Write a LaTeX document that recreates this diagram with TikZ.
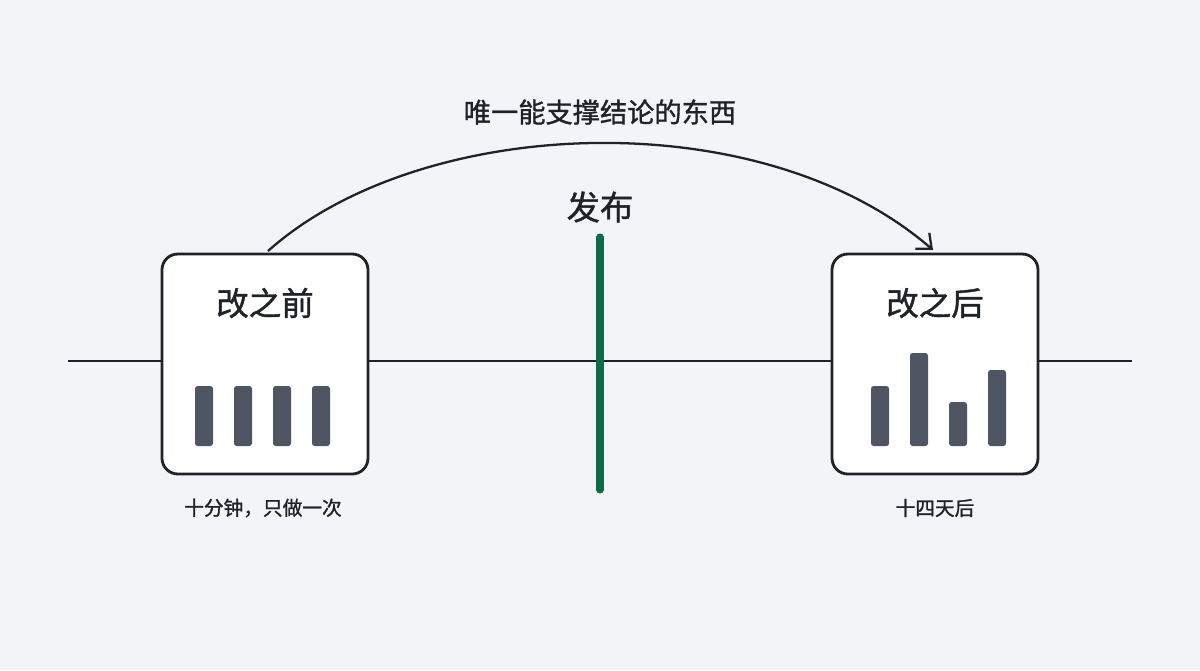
\documentclass[tikz,border=0pt]{standalone}
\usepackage{fontspec}
\newfontfamily\cjk{Noto Sans CJK SC}
\newfontfamily\cjkmed[FakeBold=1.2]{Noto Sans CJK SC}
\usetikzlibrary{arrows.meta,positioning}
\definecolor{bgcol}{HTML}{F3F4F8}
\definecolor{ink}{HTML}{1F2328}
\definecolor{barcol}{HTML}{4F5663}
\definecolor{relgreen}{HTML}{0E6B47}
\newlength{\unitpx}
\setlength{\unitpx}{0.02cm}
\tikzset{
    stage/.style = {draw=ink, line width=1.6pt, fill=white, rounded corners=9pt,
                    minimum width=206\unitpx, minimum height=220\unitpx},
    bar/.style = {fill=barcol, rounded corners=1.5pt},
    headarrow/.style = {-{Straight Barb[length=.7em, width=1.2em]}}
}
\begin{document}
\begin{tikzpicture}[x=0.02cm, y=-0.02cm, font=\cjk, text=ink]
    \fill[bgcol] (0,0) rectangle (1200,670);
    \useasboundingbox (0,0) rectangle (1200,670);

    \coordinate (lineL) at (68,361);
    \coordinate (lineR) at (1132,361);
    \draw[ink, line width=1.3pt] (lineL) -- (lineR);

    \node (before) [stage] at (265,364) {};
    \node (after)  [stage] at (935,364) {};

    \node (beforetitle) at (265,303) {\cjkmed\fontsize{18.5pt}{22pt}\selectfont 改之前};
    \node (aftertitle)  at (935,303) {\cjkmed\fontsize{18.5pt}{22pt}\selectfont 改之后};
    \node (beforenote) at (263,508) {\cjkmed\fontsize{11.2pt}{13pt}\selectfont 十分钟，只做一次};
    \node (afternote)  at (935,508) {\cjkmed\fontsize{11.2pt}{13pt}\selectfont 十四天后};

    \foreach \X in {204,243,282,321}
        \fill[bar] (\X-9,386) rectangle (\X+9,446);
    \foreach \X/\Top in {880/386, 919/353, 958/402, 997/370}
        \fill[bar] (\X-9,\Top) rectangle (\X+9,446);

    \coordinate (relTop) at (600,237);
    \coordinate (relBot) at (600,490);
    \draw[relgreen, line width=4pt, line cap=round] (relTop) -- (relBot);
    \node (release) at (600,207) {\cjkmed\fontsize{19pt}{22pt}\selectfont 发布};

    \coordinate (arcA) at (268,251);
    \coordinate (arcB) at (933,250);
    \draw[ink, line width=1.3pt, headarrow] (arcA) .. controls (420,115) and (760,100) .. (arcB);
    \node (evidence) at (600,112) {\cjkmed\fontsize{15.5pt}{18pt}\selectfont 唯一能支撑结论的东西};
\end{tikzpicture}
\end{document}
